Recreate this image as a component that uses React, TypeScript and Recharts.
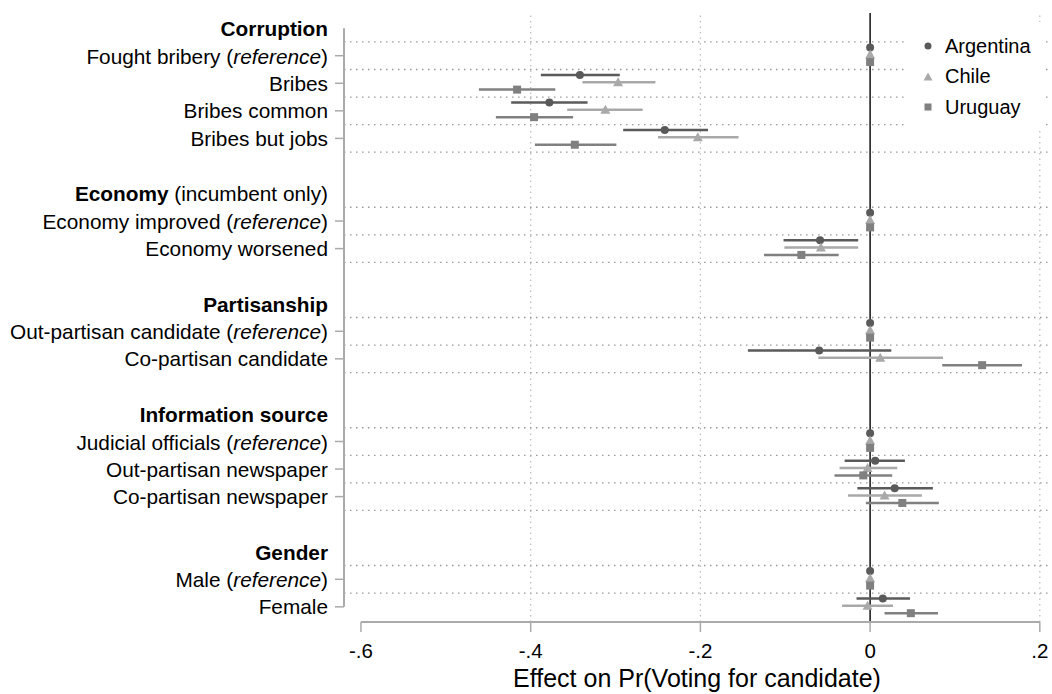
import {
  ScatterChart,
  Scatter,
  XAxis,
  YAxis,
  ErrorBar,
  ReferenceLine,
  Legend,
} from 'recharts';

const FONT = 'Arial, "Liberation Sans", sans-serif';

// rows of the plot, top to bottom ('' = spacer row)
const rowLabels = [
  'Corruption',
  'Fought bribery (reference)',
  'Bribes',
  'Bribes common',
  'Bribes but jobs',
  '',
  'Economy (incumbent only)',
  'Economy improved (reference)',
  'Economy worsened',
  '',
  'Partisanship',
  'Out-partisan candidate (reference)',
  'Co-partisan candidate',
  '',
  'Information source',
  'Judicial officials (reference)',
  'Out-partisan newspaper',
  'Co-partisan newspaper',
  '',
  'Gender',
  'Male (reference)',
  'Female',
];
const headerRows = [0, 6, 10, 14, 19];
const itemRows = [1, 2, 3, 4, 7, 8, 11, 12, 15, 16, 17, 20, 21];

const argentinaEst = [0, -0.342, -0.378, -0.242, 0, -0.059, 0, -0.06, 0, 0.006, 0.029, 0, 0.015];
const argentinaLo = [0, -0.388, -0.423, -0.291, 0, -0.102, 0, -0.144, 0, -0.03, -0.015, 0, -0.016];
const argentinaHi = [0, -0.295, -0.333, -0.191, 0, -0.014, 0, 0.025, 0, 0.041, 0.074, 0, 0.047];

const chileEst = [0, -0.297, -0.312, -0.203, 0, -0.058, 0, 0.012, 0, -0.003, 0.017, 0, -0.003];
const chileLo = [0, -0.339, -0.357, -0.25, 0, -0.101, 0, -0.061, 0, -0.036, -0.026, 0, -0.033];
const chileHi = [0, -0.253, -0.268, -0.155, 0, -0.014, 0, 0.086, 0, 0.032, 0.061, 0, 0.027];

const uruguayEst = [0, -0.416, -0.396, -0.348, 0, -0.081, 0, 0.132, 0, -0.008, 0.038, 0, 0.048];
const uruguayLo = [0, -0.461, -0.441, -0.395, 0, -0.125, 0, 0.085, 0, -0.042, -0.005, 0, 0.017];
const uruguayHi = [0, -0.371, -0.35, -0.299, 0, -0.037, 0, 0.179, 0, 0.026, 0.081, 0, 0.08];

const xTicks = [-0.6, -0.4, -0.2, 0, 0.2];
const xGridValues = [-0.4, -0.2, 0.2];

const X_MIN = -0.62;
const X_MAX = 0.212;
const Y_MIN = -0.55;
const Y_MAX = 21.55;

const makeSeries = (est: number[], lo: number[], hi: number[], offset: number) =>
  itemRows.map((row, i) => ({
    x: est[i],
    y: row + offset,
    err: [est[i] - lo[i], hi[i] - est[i]],
  }));

const argentinaData = makeSeries(argentinaEst, argentinaLo, argentinaHi, -0.3);
const chileData = makeSeries(chileEst, chileLo, chileHi, -0.04);
const uruguayData = makeSeries(uruguayEst, uruguayLo, uruguayHi, 0.23);

// dotted lines between the rows of each block (the last one sits on the axis)
const hGridValues = Array.from(
  new Set(itemRows.flatMap((r) => [r - 0.5, r + 0.5]))
).filter((v) => v < 21);

const yTicks = [...headerRows, ...itemRows].sort((a, b) => a - b);

const COLORS = {
  argentina: '#5a5a5a',
  chile: '#a9a9a9',
  uruguay: '#808080',
};

const YTick = ({ y, payload }: any) => {
  const row = payload.value;
  const label = rowLabels[row] ?? '';
  const isHeader = headerRows.includes(row);
  let content: any = label;
  if (isHeader) {
    const idx = label.indexOf(' (');
    content =
      idx > 0 ? (
        <>
          <tspan fontWeight="bold">{label.slice(0, idx)}</tspan>
          <tspan>{label.slice(idx)}</tspan>
        </>
      ) : (
        <tspan fontWeight="bold">{label}</tspan>
      );
  } else if (label.includes('(reference)')) {
    content = (
      <>
        <tspan>{label.replace('(reference)', '(')}</tspan>
        <tspan fontStyle="italic">reference</tspan>
        <tspan>)</tspan>
      </>
    );
  }
  return (
    <g>
      <text
        x={328}
        y={y}
        textAnchor="end"
        dominantBaseline="central"
        fontSize={20.8}
        fontFamily={FONT}
        fill="#000"
      >
        {content}
      </text>
      {!isHeader && <line x1={335} x2={344} y1={y} y2={y} stroke="#aaa" strokeWidth={1.5} />}
    </g>
  );
};

const legendItems = [
  { name: 'Argentina', color: COLORS.argentina, shape: 'circle' },
  { name: 'Chile', color: COLORS.chile, shape: 'triangle' },
  { name: 'Uruguay', color: COLORS.uruguay, shape: 'square' },
];

const LegendBox = () => (
  <div
    style={{
      background: '#fff',
      width: 137,
      height: 108,
      paddingTop: 9,
      boxSizing: 'border-box',
      fontFamily: FONT,
      fontSize: 20,
    }}
  >
    {legendItems.map((it) => (
      <div key={it.name} style={{ display: 'flex', alignItems: 'center', height: 30.5 }}>
        <svg width={37} height={20} style={{ flexShrink: 0 }}>
          {it.shape === 'circle' && <circle cx={20} cy={10} r={3.5} fill={it.color} />}
          {it.shape === 'triangle' && <polygon points="20,5.5 24.5,13.5 15.5,13.5" fill={it.color} />}
          {it.shape === 'square' && <rect x={16.5} y={6.5} width={7} height={7} fill={it.color} />}
        </svg>
        <span style={{ color: '#000' }}>{it.name}</span>
      </div>
    ))}
  </div>
);

const circleShape = (p: any) => <circle cx={p.cx} cy={p.cy} r={4} fill={COLORS.argentina} />;
const triangleShape = (p: any) => (
  <polygon
    points={`${p.cx},${p.cy - 5} ${p.cx + 5},${p.cy + 4} ${p.cx - 5},${p.cy + 4}`}
    fill={COLORS.chile}
  />
);
const squareShape = (p: any) => (
  <rect x={p.cx - 4} y={p.cy - 4} width={8} height={8} fill={COLORS.uruguay} />
);

export default function App() {
  return (
    <div style={{ position: 'absolute', left: 0, top: 0, background: '#fff' }}>
      <ScatterChart
        width={1052}
        height={694}
        margin={{ top: 13, right: 2, left: 0, bottom: 0 }}
        style={{ fontFamily: FONT }}
      >
        <XAxis
          type="number"
          dataKey="x"
          domain={[X_MIN, X_MAX]}
          allowDataOverflow
          ticks={xTicks}
          interval={0}
          tickFormatter={(v: number) => (v === 0 ? '0' : v.toFixed(1).replace('0.', '.'))}
          axisLine={false}
          tickLine={{ stroke: '#aaa', strokeWidth: 1.5 }}
          tickSize={10}
          tickMargin={11}
          tick={{ fill: '#000', fontSize: 20.5, fontFamily: FONT }}
          height={72}
          label={{
            value: 'Effect on Pr(Voting for candidate)',
            position: 'insideBottom',
            offset: 7,
            fill: '#000',
            fontSize: 25,
            fontFamily: FONT,
          }}
        />
        <YAxis
          type="number"
          dataKey="y"
          domain={[Y_MIN, Y_MAX]}
          allowDataOverflow
          reversed
          ticks={yTicks}
          interval={0}
          width={344}
          axisLine={false}
          tickLine={false}
          tick={<YTick />}
        />
        {hGridValues.map((v) => (
          <ReferenceLine
            key={`h${v}`}
            y={v}
            stroke="#999"
            strokeWidth={1.3}
            strokeDasharray="1.5 4.5"
            ifOverflow="visible"
          />
        ))}
        {xGridValues.map((v) => (
          <ReferenceLine
            key={`v${v}`}
            x={v}
            stroke="#bbb"
            strokeWidth={1.2}
            strokeDasharray="1.5 4"
            ifOverflow="visible"
          />
        ))}
        <ReferenceLine x={0} stroke="#000" strokeWidth={1.4} />
        <ReferenceLine
          segment={[
            { x: X_MIN, y: 0 },
            { x: X_MIN, y: 21 },
          ]}
          stroke="#aaa"
          strokeWidth={2}
          ifOverflow="visible"
        />
        <ReferenceLine
          segment={[
            { x: -0.6, y: Y_MAX },
            { x: 0.2, y: Y_MAX },
          ]}
          stroke="#aaa"
          strokeWidth={2}
          ifOverflow="visible"
        />
        <Legend
          layout="vertical"
          align="center"
          verticalAlign="middle"
          content={<LegendBox />}
          wrapperStyle={{ top: 22, left: 908, width: 137, right: 'auto', bottom: 'auto' }}
        />
        <Scatter name="Argentina" data={argentinaData} shape={circleShape} isAnimationActive={false}>
          <ErrorBar dataKey="err" direction="x" width={0} stroke={COLORS.argentina} strokeWidth={2.5} />
        </Scatter>
        <Scatter name="Chile" data={chileData} shape={triangleShape} isAnimationActive={false}>
          <ErrorBar dataKey="err" direction="x" width={0} stroke={COLORS.chile} strokeWidth={2.5} />
        </Scatter>
        <Scatter name="Uruguay" data={uruguayData} shape={squareShape} isAnimationActive={false}>
          <ErrorBar dataKey="err" direction="x" width={0} stroke={COLORS.uruguay} strokeWidth={2.5} />
        </Scatter>
      </ScatterChart>
    </div>
  );
}
